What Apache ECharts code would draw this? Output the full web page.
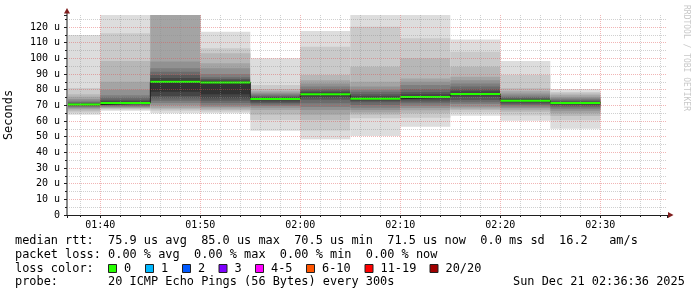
<!DOCTYPE html>
<html><head><meta charset="utf-8">
<script src="https://cdn.jsdelivr.net/npm/echarts@6/dist/echarts.min.js"></script>
<style>html,body{margin:0;padding:0;background:#fff}#c{width:697px;height:297px}</style>
</head><body><div id="c"></div>
<script>
// RRD step end times (5 minute steps)
const stepEnds = ['01:40','01:45','01:50','01:55','02:00','02:05','02:10','02:15','02:20','02:25','02:30'];
// median rtt per step (us)
const medianRtt = [70.5, 71.5, 85.0, 84.5, 74.0, 77.0, 74.2, 75.3, 77.2, 73.0, 71.5];
// lost pings per step (of 20)
const lostPings = [0,0,0,0,0,0,0,0,0,0,0];
// 20 sorted ping rtts per step (us)
const ping0140 = [64.0,65.5,66.5,67.5,68.2,68.8,69.3,69.7,70.1,70.4, 70.6,71.0,71.5,72.2,73.0,74.0,75.5,77.0,81.0,114.9];
const ping0145 = [66.5,67.3,67.8,68.3,68.8,69.3,69.8,70.3,70.8,71.2, 71.8,72.6,73.6,75.0,76.5,80.0,85.0,98.3,116.0,131.0];
const ping0150 = [64.9,66.5,67.5,68.5,70.0,71.5,73.0,74.5,76.0,78.7, 86.0,87.5,89.3,91.5,93.6,97.9,131.0,136.0,142.0,150.0];
const ping0155 = [65.0,66.0,67.0,68.0,69.0,70.0,71.5,73.0,74.5,77.0, 85.0,85.8,86.8,88.0,90.0,93.6,96.8,103.2,106.4,117.0];
const ping0200 = [53.8,60.6,64.0,67.0,68.5,69.5,70.5,71.5,72.5,73.5, 74.5,75.0,75.5,76.2,77.0,78.0,79.0,80.5,83.0,100.0];
const ping0205 = [48.3,54.0,60.6,64.0,67.0,69.0,71.3,73.5,75.0,76.5, 77.5,78.3,79.3,80.5,82.0,84.0,86.0,89.4,107.4,117.4];
const ping0210 = [50.4,61.7,64.0,65.5,67.0,68.5,70.2,72.0,73.0,73.8, 74.6,75.8,77.0,78.7,80.0,82.0,85.1,94.7,120.2,131.0];
const ping0215 = [56.4,62.0,65.0,66.8,68.3,69.8,71.3,72.5,73.8,74.8, 75.8,77.0,78.5,80.5,83.0,85.0,87.2,100.0,112.8,129.0];
const ping0220 = [63.4,65.5,67.0,68.0,69.1,70.8,72.0,73.4,75.5,76.8, 77.8,79.0,80.3,82.0,84.0,86.0,88.3,94.7,104.2,112.1];
const ping0225 = [60.2,63.5,65.9,67.2,68.3,69.3,70.2,71.0,71.8,72.6, 73.4,73.9,74.5,75.3,76.3,77.5,79.0,80.9,89.4,98.3];
const ping0230 = [55.0,60.5,63.2,65.0,66.5,67.8,68.8,69.7,70.4,71.0, 71.7,72.2,72.8,73.5,74.3,75.2,76.5,77.5,78.5,80.4];
const pingSets = [ping0140,ping0145,ping0150,ping0155,ping0200,ping0205,ping0210,ping0215,ping0220,ping0225,ping0230];

const lossLabels = ['0','1','2','3','4-5','6-10','11-19','20/20'];
const lossColors = ['#26ff00','#00b8ff','#0059ff','#7e00ff','#ff00ff','#ff5500','#ff0000','#a00000'];
const lossUpper  = [0,1,2,3,5,10,19,20];

const legendLines = [
  'median rtt:  75.9 us avg  85.0 us max  70.5 us min  71.5 us now  0.0 ms sd  16.2   am/s',
  'packet loss: 0.00 % avg  0.00 % max  0.00 % min  0.00 % now',
  'loss color:',
  'probe:       20 ICMP Echo Pings (56 Bytes) every 300s'
];
const stampText = 'Sun Dec 21 02:36:36 2025';
const vendorText = 'RRDTOOL / TOBI OETIKER';

const STEP = 5;                 // minutes
const X_MIN = 96 + 40/60;       // 01:36:40
const X_MAX = 156 + 40/60;      // 02:36:40
const Y_MAX = 127.66;
const FONT = '"DejaVu Sans Mono", monospace';

function toMin(s){ const p = s.split(':'); return (+p[0])*60 + (+p[1]); }
function pad(n){ return (n<10?'0':'') + n; }

const stepData = stepEnds.map((t,i)=>[toMin(t)-STEP, toMin(t), i]);
const medianLine = [];
stepData.forEach((d,i)=>{ medianLine.push([d[0], medianRtt[i]]); medianLine.push([d[1], medianRtt[i]]); });

function clipRect(r, params){
  const cs = params.coordSys;
  return echarts.graphic.clipRectByRect(r, {x:cs.x, y:cs.y, width:cs.width, height:cs.height});
}

function renderSmoke(params, api){
  const i = api.value(2), s = api.value(0), e = api.value(1);
  const p = pingSets[i].slice().sort((a,b)=>a-b);
  const n = p.length, half = n/2;
  const children = [];
  for (let k=0; k<half; k++){
    const c = Math.floor(190/half*(half-(k+1))) + 50;
    const a = api.coord([s, p[n-1-k]]), b = api.coord([e, p[k]]);
    const r = clipRect({x:a[0], y:a[1], width:b[0]-a[0], height:b[1]-a[1]}, params);
    if (r) children.push({type:'rect', shape:r, style:{fill:'rgb('+c+','+c+','+c+')'}});
  }
  return {type:'group', children};
}

function renderLoss(params, api){
  const i = api.value(2), s = api.value(0), e = api.value(1);
  const sw = Y_MAX/200;
  let idx = 0; while (lostPings[i] > lossUpper[idx]) idx++;
  const a = api.coord([s, medianRtt[i]+sw]), b = api.coord([e, medianRtt[i]-sw]);
  const r = clipRect({x:a[0], y:a[1], width:b[0]-a[0], height:b[1]-a[1]}, params);
  return r ? {type:'rect', shape:r, style:{fill:lossColors[idx]}} : null;
}

const gridMajor = {color:'rgba(222,79,79,0.42)', width:1, type:[1,1]};
const gridMinor = {color:'rgba(143,143,143,0.42)', width:1, type:[1,1]};

const graphics = [];
graphics.push({type:'line', shape:{x1:67,y1:15,x2:67,y2:12}, style:{stroke:'#8a8a8a', lineWidth:2}, z:10});
graphics.push({type:'polygon', shape:{points:[[67,8],[64,13.5],[70,13.5]]}, style:{fill:'#801f1f'}, z:10});
graphics.push({type:'polygon', shape:{points:[[673.5,215],[668,212],[668,218]]}, style:{fill:'#801f1f'}, z:10});
const lineY = [241.3, 254.7, 268.7, 282.3];
legendLines.forEach((t,i)=>{
  graphics.push({type:'text', x:15, y:lineY[i], style:{text:t, fontFamily:FONT, fontSize:11.9, fill:'#000', align:'left', verticalAlign:'middle'}});
});
graphics.push({type:'text', x:513, y:lineY[3], style:{text:stampText, fontFamily:FONT, fontSize:11.9, fill:'#000', align:'left', verticalAlign:'middle'}});
const boxX = [108.5,145.5,182.5,219,255.5,306.5,365,430];
lossLabels.forEach((l,i)=>{
  graphics.push({type:'rect', shape:{x:boxX[i], y:264.5, width:8, height:8}, style:{fill:lossColors[i], stroke:'#202020', lineWidth:1}});
  graphics.push({type:'text', x:boxX[i]+15.5, y:lineY[2], style:{text:l, fontFamily:FONT, fontSize:11.9, fill:'#000', align:'left', verticalAlign:'middle'}});
});
graphics.push({type:'text', x:686, y:5, rotation:-Math.PI/2, style:{text:vendorText, fontFamily:FONT, fontSize:8, fill:'#c8c8c8', align:'left', verticalAlign:'middle'}});

const chart = echarts.init(document.getElementById('c'), null, {renderer:'canvas'});
chart.setOption({
  animation:false,
  backgroundColor:'#ffffff',
  grid:{left:67, top:15, width:600, height:200, containLabel:false, outerBoundsMode:'none'},
  xAxis:{
    type:'value', min:X_MIN, max:X_MAX, splitNumber:6, z:5,
    axisLine:{show:true, onZero:false, lineStyle:{color:'#1f1f1f', width:1}},
    axisTick:{show:true, length:3, lineStyle:{color:'#1f1f1f'}},
    minorTick:{show:true, splitNumber:5, length:2, lineStyle:{color:'#1f1f1f'}},
    axisLabel:{showMinLabel:false, showMaxLabel:false, margin:5, fontFamily:FONT, fontSize:10, color:'#000',
      formatter:v=>{ const r = Math.round(v); if (Math.abs(v-r)>1e-6 || r%10) return ''; return pad(Math.floor(r/60))+':'+pad(r%60); }},
    splitLine:{show:true, showMinLine:false, showMaxLine:false, lineStyle:gridMajor},
    minorSplitLine:{show:true, lineStyle:gridMinor}
  },
  yAxis:{
    type:'value', min:0, max:Y_MAX, interval:10, z:5,
    name:'Seconds', nameLocation:'middle', nameGap:52, nameRotate:90,
    nameTextStyle:{fontFamily:FONT, fontSize:11.9, color:'#000'},
    axisLine:{show:true, onZero:false, lineStyle:{color:'#8a8a8a', width:2}},
    axisTick:{show:true, length:3, lineStyle:{color:'#1f1f1f'}},
    minorTick:{show:true, splitNumber:2, length:2, lineStyle:{color:'#1f1f1f'}},
    axisLabel:{showMaxLabel:false, margin:7, fontFamily:FONT, fontSize:10, color:'#000',
      formatter:v=> v===0 ? '0' : v+' u'},
    splitLine:{show:true, showMinLine:false, showMaxLine:false, lineStyle:gridMajor},
    minorSplitLine:{show:true, lineStyle:gridMinor}
  },
  series:[
    {type:'custom', name:'smoke', renderItem:renderSmoke, data:stepData, encode:{x:[0,1], y:2}, z:1, silent:true},
    {type:'line', name:'median', data:medianLine, symbol:'none', lineStyle:{color:'#202020', width:1}, z:2, silent:true},
    {type:'custom', name:'loss', renderItem:renderLoss, data:stepData, encode:{x:[0,1]}, z:3, silent:true}
  ],
  graphic:graphics
});
</script></body></html>
